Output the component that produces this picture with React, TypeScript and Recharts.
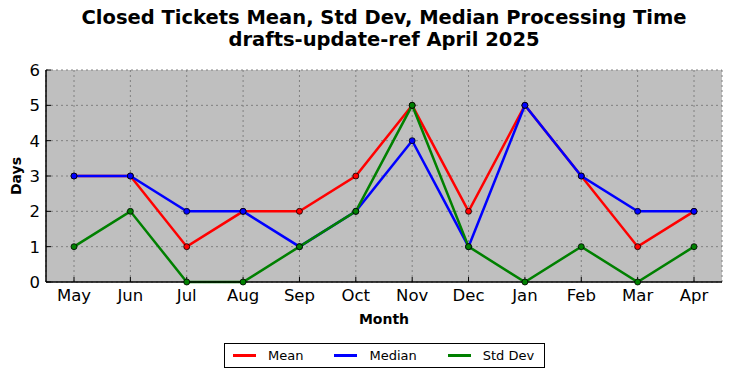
import React from 'react';
import { LineChart, Line, XAxis, YAxis, CartesianGrid } from 'recharts';

const months = ['May', 'Jun', 'Jul', 'Aug', 'Sep', 'Oct', 'Nov', 'Dec', 'Jan', 'Feb', 'Mar', 'Apr'];
const meanDays = [3, 3, 1, 2, 2, 3, 5, 2, 5, 3, 1, 2];
const medianDays = [3, 3, 2, 2, 1, 2, 4, 1, 5, 3, 2, 2];
const stdDevDays = [1, 2, 0, 0, 1, 2, 5, 1, 0, 1, 0, 1];
const yTicks = [0, 1, 2, 3, 4, 5, 6];

const data = months.map((m, i) => ({
  month: m,
  mean: meanDays[i],
  median: medianDays[i],
  std: stdDevDays[i],
}));

const font = 'DejaVu Sans, sans-serif';

const series = [
  { key: 'mean', name: 'Mean', color: '#ff0000' },
  { key: 'median', name: 'Median', color: '#0000ff' },
  { key: 'std', name: 'Std Dev', color: '#008000' },
];

const LegendBox = () => (
  <div
    style={{
      position: 'absolute',
      left: 224,
      top: 343,
      display: 'flex',
      alignItems: 'center',
      border: '1px solid #000',
      background: '#fff',
      height: 25,
      width: 321,
      boxSizing: 'border-box',
      fontFamily: font,
      fontSize: 13,
      color: '#000',
    }}
  >
    {series.map((s, i) => (
      <div key={s.key} style={{ display: 'flex', alignItems: 'center', marginLeft: i === 0 ? 8 : 31 }}>
        <div style={{ width: 23, height: 3, background: s.color, marginRight: 12 }} />
        <span>{s.name}</span>
      </div>
    ))}
  </div>
);

export default function App() {
  return (
    <div style={{ position: 'absolute', left: 0, top: 0, width: 732, height: 378, background: '#fff' }}>
      <div
        style={{
          position: 'absolute',
          left: 46,
          width: 676,
          top: 7,
          textAlign: 'center',
          fontFamily: font,
          fontWeight: 'bold',
          fontSize: 19.5,
          lineHeight: '22px',
          color: '#000',
        }}
      >
        Closed Tickets Mean, Std Dev, Median Processing Time
        <br />
        drafts-update-ref April 2025
      </div>
      <div
        style={{
          position: 'absolute',
          left: 46,
          width: 676,
          top: 311,
          textAlign: 'center',
          fontFamily: font,
          fontWeight: 'bold',
          fontSize: 14,
          color: '#000',
        }}
      >
        Month
      </div>
      <div
        style={{
          position: 'absolute',
          left: 16,
          top: 176,
          transform: 'translate(-50%, -50%) rotate(-90deg)',
          fontFamily: font,
          fontWeight: 'bold',
          fontSize: 14,
          color: '#000',
        }}
      >
        Days
      </div>
      <LineChart
        width={732}
        height={378}
        data={data}
        margin={{ top: 70, right: 10, bottom: 62, left: 0 }}
      >
        <CartesianGrid
          fill="#bfbfbf"
          stroke="#808080"
          strokeDasharray="2 3"
          horizontalValues={yTicks}
        />
        <XAxis
          dataKey="month"
          padding={{ left: 28, right: 28 }}
          height={34}
          axisLine={{ stroke: '#000', strokeWidth: 1.5 }}
          tickLine={{ stroke: '#000' }}
          tickSize={-5}
          tickMargin={12}
          tick={{ fill: '#000', fontFamily: font, fontSize: 16.5 }}
          interval={0}
        />
        <XAxis
          xAxisId="top"
          orientation="top"
          dataKey="month"
          padding={{ left: 28, right: 28 }}
          height={0}
          axisLine={{ stroke: '#000', strokeWidth: 1.5 }}
          tickLine={{ stroke: '#000' }}
          tickSize={-5}
          tick={false}
          interval={0}
        />
        <YAxis
          domain={[0, 6]}
          ticks={yTicks}
          width={46}
          axisLine={{ stroke: '#000', strokeWidth: 1.5 }}
          tickLine={{ stroke: '#000' }}
          tickSize={-5}
          tickMargin={11}
          tick={{ fill: '#000', fontFamily: font, fontSize: 16.5 }}
        />
        <YAxis
          yAxisId="right"
          orientation="right"
          domain={[0, 6]}
          ticks={yTicks}
          width={0}
          axisLine={{ stroke: '#000', strokeWidth: 1.5 }}
          tickLine={{ stroke: '#000' }}
          tickSize={-5}
          tick={false}
        />
        {series.map((s) => (
          <Line
            key={s.key}
            dataKey={s.key}
            name={s.name}
            stroke={s.color}
            strokeWidth={2.5}
            dot={{ r: 3, fill: s.color, stroke: '#000', strokeWidth: 0.8 }}
            activeDot={false}
            isAnimationActive={false}
          />
        ))}
      </LineChart>
      <LegendBox />
    </div>
  );
}
